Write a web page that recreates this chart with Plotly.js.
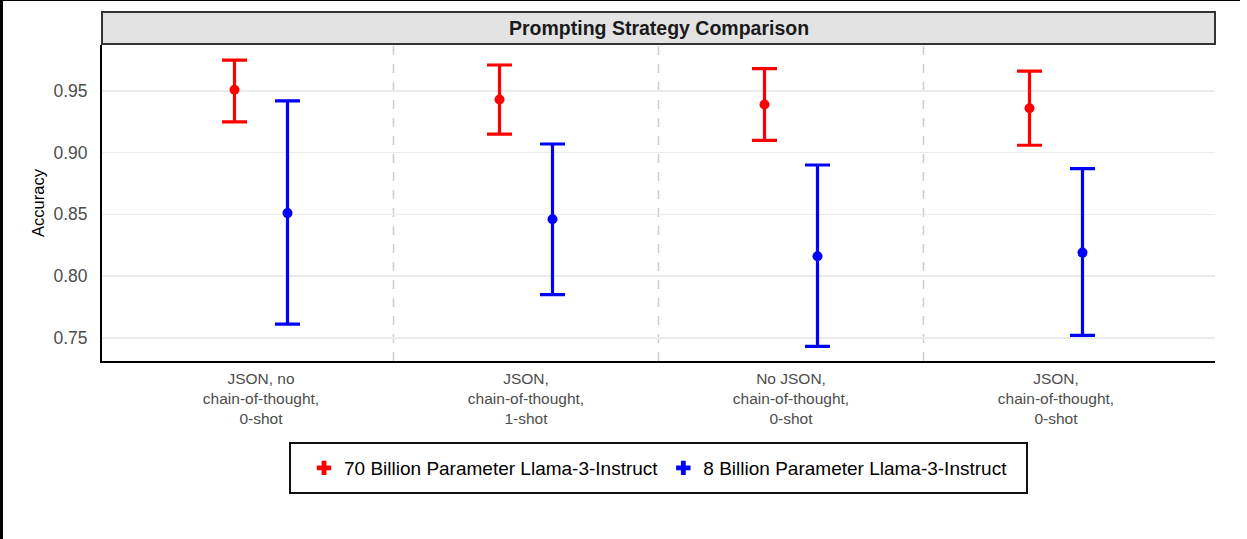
<!DOCTYPE html>
<html>
<head>
<meta charset="utf-8">
<script src="https://cdn.plot.ly/plotly-3.0.1.min.js"></script>
<style>
  html, body { margin: 0; padding: 0; background: #fff; }
  #wrap { position: relative; width: 1247px; height: 539px; overflow: hidden; }
  #chart { position: absolute; left: 0; top: 0; width: 1247px; height: 539px; }
  #lb { position: absolute; left: 0; top: 0; width: 3px; height: 539px; background: #000; }
  #tb { position: absolute; left: 0; top: 0; width: 1240px; height: 1px; background: #000; }
</style>
</head>
<body>
<div id="wrap">
  <div id="chart"></div>
  <div id="lb"></div>
  <div id="tb"></div>
</div>
<script>
const categories = [
  "JSON, no<br>chain-of-thought,<br>0-shot",
  "JSON,<br>chain-of-thought,<br>1-shot",
  "No JSON,<br>chain-of-thought,<br>0-shot",
  "JSON,<br>chain-of-thought,<br>0-shot"
];
const seriesNames = ["70 Billion Parameter Llama-3-Instruct", "8 Billion Parameter Llama-3-Instruct"];
const mean70  = [0.951, 0.943, 0.939, 0.936];
const upper70 = [0.975, 0.971, 0.968, 0.966];
const lower70 = [0.925, 0.915, 0.910, 0.906];
const mean8   = [0.851, 0.846, 0.816, 0.819];
const upper8  = [0.942, 0.907, 0.890, 0.887];
const lower8  = [0.761, 0.785, 0.743, 0.752];
const yTicks = [0.75, 0.80, 0.85, 0.90, 0.95];

const colors = ["#ff0000", "#0000ff"];
const dodge = 0.1;
const idx = categories.map((_, i) => i);

function seriesTrace(name, mean, upper, lower, color, offset) {
  return {
    type: "scatter", mode: "markers", name: name, showlegend: false,
    x: idx.map(i => i + offset), y: mean,
    marker: { color: color, size: 10 },
    error_y: {
      type: "data", symmetric: false,
      array: mean.map((m, i) => upper[i] - m),
      arrayminus: mean.map((m, i) => m - lower[i]),
      color: color, thickness: 3.2, width: 12.5
    },
    hoverinfo: "skip"
  };
}
function legendTrace(name, color) {
  return {
    type: "scatter", mode: "markers", name: name, x: [null], y: [null],
    marker: { color: color, size: 12, symbol: "cross" }, showlegend: true
  };
}

const data = [
  seriesTrace(seriesNames[0], mean70, upper70, lower70, colors[0], -dodge),
  seriesTrace(seriesNames[1], mean8, upper8, lower8, colors[1], dodge),
  legendTrace(seriesNames[0], colors[0]),
  legendTrace(seriesNames[1], colors[1])
];

const plotH = 316, plotW = 1113;
const shapes = [
  { type: "rect", xref: "paper", yref: "paper", x0: 0, x1: 1, y0: 1.003, y1: 1 + 33 / plotH,
    fillcolor: "#e3e3e3", line: { color: "#333333", width: 2 } },
  { type: "rect", xref: "paper", yref: "paper",
    x0: (290 - 102) / plotW, x1: (1027 - 102) / plotW,
    y0: (361 - 443) / plotH, y1: (361 - 493) / plotH,
    fillcolor: "rgba(0,0,0,0)", line: { color: "#111111", width: 2 } }
];
[0.5, 1.5, 2.5].forEach(v => shapes.push({
  type: "line", xref: "x", yref: "paper", x0: v, x1: v, y0: 0, y1: 1,
  line: { color: "#cccccc", width: 1.5, dash: "dash" }, layer: "below"
}));

const layout = {
  width: 1247, height: 539,
  margin: { l: 102, r: 32, t: 45, b: 178 },
  paper_bgcolor: "#ffffff", plot_bgcolor: "#ffffff",
  font: { family: "Liberation Sans, Arial, sans-serif", color: "#000" },
  showlegend: true,
  legend: {
    orientation: "h", x: 0.5, xanchor: "center", y: (361 - 468) / plotH, yanchor: "middle",
    borderwidth: 0, font: { size: 19, color: "#000" }, bgcolor: "rgba(0,0,0,0)",
    itemwidth: 30, tracegroupgap: 0
  },
  xaxis: {
    range: [-0.6, 3.6], tickvals: idx, ticktext: categories,
    showgrid: false, zeroline: false, showline: true, linecolor: "#000", linewidth: 2,
    ticks: "", tickfont: { size: 15.5, color: "#4d4d4d" }, ticklabelstandoff: 2
  },
  yaxis: {
    range: [0.7312, 0.9872], tickvals: yTicks, ticktext: yTicks.map(v => v.toFixed(2)),
    showgrid: true, gridcolor: "#ebebeb", gridwidth: 1.5, zeroline: false,
    showline: true, linecolor: "#000", linewidth: 2, ticks: "",
    tickfont: { size: 17.5, color: "#4d4d4d" }, ticklabelstandoff: 9,
    title: { text: "Accuracy", font: { size: 16.5, color: "#000" }, standoff: 5 }
  },
  shapes: shapes,
  annotations: [{
    xref: "paper", yref: "paper", x: 0.5, y: 1 + 16.5 / plotH, xanchor: "center", yanchor: "middle",
    text: "<b>Prompting Strategy Comparison</b>", showarrow: false,
    font: { size: 19.5, color: "#1a1a1a" }
  }]
};

Plotly.newPlot("chart", data, layout, { displayModeBar: false, staticPlot: true });
</script>
</body>
</html>
